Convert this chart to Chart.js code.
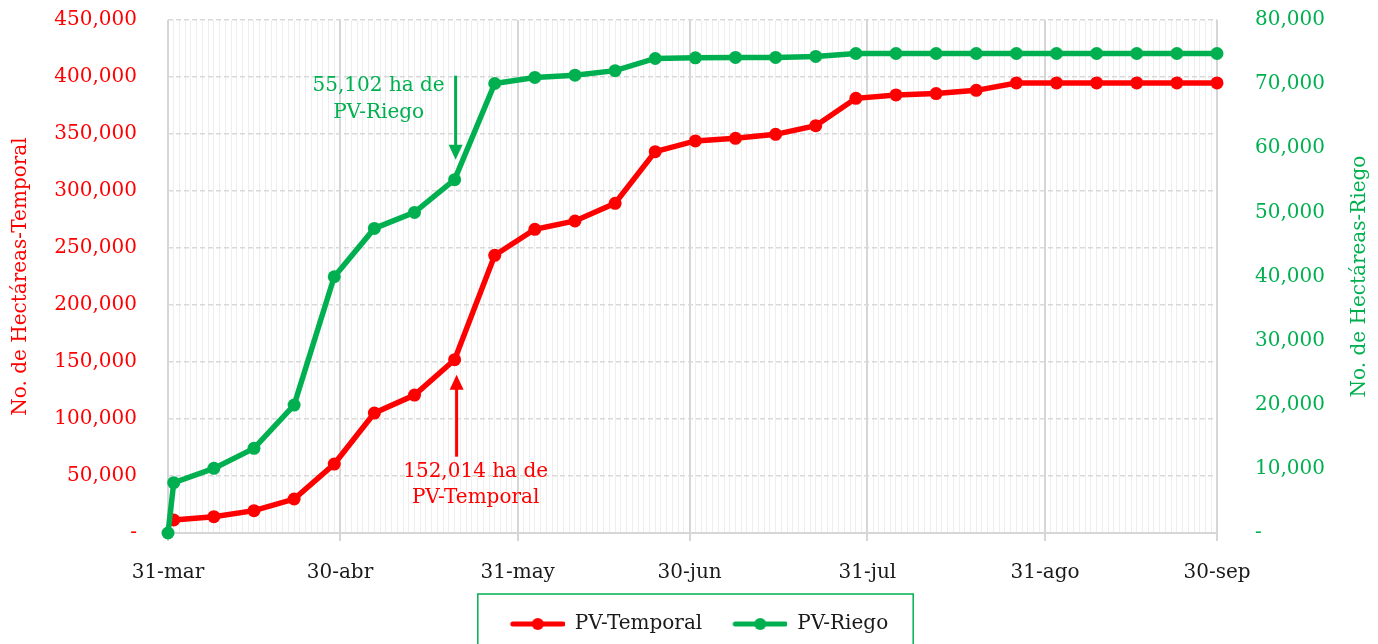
<!DOCTYPE html>
<html>
<head>
<meta charset="utf-8">
<script src="https://cdn.jsdelivr.net/npm/chart.js@4.4.1/dist/chart.umd.min.js"></script>
<style>
  html, body { margin: 0; padding: 0; background: #fff; }
</style>
</head>
<body>
<canvas id="myChart" width="1378" height="644"></canvas>
<script>
// días contados desde el 31-mar
const temporalDays = [1, 8, 15, 22, 29, 36, 43, 50, 57, 64, 71, 78, 85, 92, 99, 106, 113, 120, 127, 134, 141, 148, 155, 162, 169, 176, 183];
const temporalValues = [11400, 14300, 19600, 29800, 60500, 105200, 121000, 152014, 243600, 266400, 273700, 289200, 334500, 343900, 346200, 349700, 357300, 381300, 384300, 385500, 388300, 394800, 394800, 394800, 394800, 394800, 394800];

const riegoDays = [0, 1, 8, 15, 22, 29, 36, 43, 50, 57, 64, 71, 78, 85, 92, 99, 106, 113, 120, 127, 134, 141, 148, 155, 162, 169, 176, 183];
const riegoValues = [0, 7850, 10080, 13200, 19950, 39960, 47500, 50000, 55102, 70100, 71040, 71400, 72100, 74000, 74100, 74160, 74160, 74320, 74780, 74780, 74780, 74780, 74780, 74780, 74780, 74780, 74780, 74780];

const tickDays = [0, 30, 61, 91, 122, 153, 183];
const tickLabels = ['31-mar', '30-abr', '31-may', '30-jun', '31-jul', '31-ago', '30-sep'];

const noteDay = 50;
const noteTemporal = ['152,014 ha de', 'PV-Temporal'];
const noteRiego = ['55,102 ha de', 'PV-Riego'];
const rightTitle = 'No. de Hectáreas-Riego';

const RED = '#ff0000';
const GREEN = '#00b050';

Chart.defaults.font.family = "'DejaVu Serif', serif";
Chart.defaults.font.size = 20;
Chart.defaults.color = '#1a1a1a';

const fmt = (v) => v === 0 ? '-' : v.toLocaleString('en-US');

// marcador de la leyenda: línea con punto
function legendMarker(color) {
    const c = document.createElement('canvas');
    c.width = 75;
    c.height = 14;
    const g = c.getContext('2d');
    g.strokeStyle = color;
    g.lineWidth = 5;
    g.lineCap = 'round';
    g.beginPath();
    g.moveTo(23, 7);
    g.lineTo(73, 7);
    g.stroke();
    g.fillStyle = color;
    g.beginPath();
    g.arc(48, 7, 6, 0, Math.PI * 2);
    g.fill();
    return c;
}

function arrow(ctx, x, yFrom, yTo, color) {
    const dir = yTo > yFrom ? 1 : -1;
    ctx.save();
    ctx.strokeStyle = color;
    ctx.fillStyle = color;
    ctx.lineWidth = 3;
    ctx.beginPath();
    ctx.moveTo(x, yFrom);
    ctx.lineTo(x, yTo - dir * 14);
    ctx.stroke();
    ctx.beginPath();
    ctx.moveTo(x - 7, yTo - dir * 15);
    ctx.lineTo(x + 7, yTo - dir * 15);
    ctx.lineTo(x, yTo);
    ctx.closePath();
    ctx.fill();
    ctx.restore();
}

const notesPlugin = {
    id: 'notes',
    afterDatasetsDraw(chart) {
        const ctx = chart.ctx;
        const xs = chart.scales.x;
        const px = xs.getPixelForValue(noteDay);
        const yR = chart.scales.yR.getPixelForValue(riegoValues[riegoDays.indexOf(noteDay)]);
        const yT = chart.scales.yL.getPixelForValue(temporalValues[temporalDays.indexOf(noteDay)]);

        arrow(ctx, px + 1, yR - 104, yR - 20, GREEN);
        arrow(ctx, px + 2, yT + 97, yT + 15, RED);

        ctx.save();
        ctx.font = "20px 'DejaVu Serif', serif";
        ctx.textAlign = 'center';
        ctx.textBaseline = 'middle';
        ctx.fillStyle = GREEN;
        ctx.fillText(noteRiego[0], px - 76, yR - 94);
        ctx.fillText(noteRiego[1], px - 76, yR - 67);
        ctx.fillStyle = RED;
        ctx.fillText(noteTemporal[0], px + 21, yT + 112);
        ctx.fillText(noteTemporal[1], px + 21, yT + 138);
        ctx.restore();
    },
    afterDraw(chart) {
        const ctx = chart.ctx;
        const area = chart.chartArea;

        // título del eje derecho, leído de abajo hacia arriba
        const yR = chart.scales.yR;
        ctx.save();
        ctx.translate(yR.right - 18, (area.top + area.bottom) / 2);
        ctx.rotate(-Math.PI / 2);
        ctx.font = "20px 'DejaVu Serif', serif";
        ctx.textAlign = 'center';
        ctx.textBaseline = 'middle';
        ctx.fillStyle = GREEN;
        ctx.fillText(rightTitle, 0, 0);
        ctx.restore();

        const lg = chart.legend;
        if (!lg || !lg.legendHitBoxes.length) return;
        const boxes = lg.legendHitBoxes;
        const left = boxes[0].left + 20 - 32;
        const right = boxes[boxes.length - 1].left + boxes[boxes.length - 1].width + 25;
        ctx.save();
        ctx.strokeStyle = GREEN;
        ctx.lineWidth = 1.5;
        ctx.strokeRect(left, lg.top - 10, right - left, 80);
        ctx.restore();
    }
};

const canvasContext = document.getElementById('myChart').getContext('2d');

const myChart = new Chart(canvasContext, {
    type: 'line',
    data: {
        datasets: [
            {
                label: 'PV-Temporal',
                data: temporalDays.map((d, i) => ({ x: d, y: temporalValues[i] })),
                borderColor: RED,
                backgroundColor: RED,
                borderWidth: 5.5,
                pointRadius: 6.5,
                pointBorderWidth: 0,
                yAxisID: 'yL',
                order: 1,
                clip: false,
            },
            {
                label: 'PV-Riego',
                data: riegoDays.map((d, i) => ({ x: d, y: riegoValues[i] })),
                borderColor: GREEN,
                backgroundColor: GREEN,
                borderWidth: 5.5,
                pointRadius: 6.5,
                pointBorderWidth: 0,
                yAxisID: 'yR',
                order: 0,
                clip: false,
            }
        ],
    },
    options: {
        responsive: false,
        animation: false,
        events: [],
        layout: { padding: { top: 20, left: 0, right: 0, bottom: 0 } },
        scales: {
            x: {
                type: 'linear',
                min: 0,
                max: 183,
                afterFit: (s) => { s.height = 71; },
                ticks: {
                    stepSize: 1,
                    autoSkip: false,
                    maxRotation: 0,
                    padding: 20,
                    color: '#1a1a1a',
                    callback: (v) => {
                        const i = tickDays.indexOf(v);
                        return i >= 0 ? tickLabels[i] : '';
                    }
                },
                grid: {
                    color: (c) => tickDays.includes(c.tick.value) ? '#d6d6d6' : '#eeeeee',
                    lineWidth: (c) => tickDays.includes(c.tick.value) ? 2 : 1,
                    tickColor: (c) => tickDays.includes(c.tick.value) ? '#d6d6d6' : 'rgba(0,0,0,0)',
                    tickLength: 8,
                },
                border: { display: true, color: '#d6d6d6', width: 2 },
            },
            yL: {
                position: 'left',
                min: 0,
                max: 450000,
                afterFit: (s) => { s.width = 168; },
                ticks: {
                    stepSize: 50000,
                    color: RED,
                    padding: 2,
                    callback: (v) => fmt(v),
                },
                grid: { color: '#d9d9d9', lineWidth: 1.5, tickLength: 29, tickColor: 'rgba(0,0,0,0)' },
                border: { display: false, dash: [5, 3] },
                title: {
                    display: true,
                    text: 'No. de Hectáreas-Temporal',
                    color: RED,
                    padding: { top: 9, bottom: 0 },
                },
            },
            yR: {
                position: 'right',
                min: 0,
                max: 80000,
                afterFit: (s) => { s.width = 161; },
                ticks: {
                    stepSize: 10000,
                    color: GREEN,
                    padding: 2,
                    callback: (v) => fmt(v),
                },
                grid: { drawOnChartArea: false, tickLength: 36, tickColor: 'rgba(0,0,0,0)' },
                border: { display: false },
            },
        },
        plugins: {
            tooltip: { enabled: false },
            legend: {
                position: 'bottom',
                labels: {
                    usePointStyle: true,
                    pointStyleWidth: 75,
                    padding: 10,
                    color: '#1a1a1a',
                    sort: (a, b) => a.datasetIndex - b.datasetIndex,
                    generateLabels: (chart) => {
                        const items = Chart.defaults.plugins.legend.labels.generateLabels(chart);
                        items.forEach((it) => {
                            it.pointStyle = legendMarker(chart.data.datasets[it.datasetIndex].borderColor);
                        });
                        return items;
                    }
                }
            }
        }
    },
    plugins: [notesPlugin]
});
</script>
</body>
</html>
